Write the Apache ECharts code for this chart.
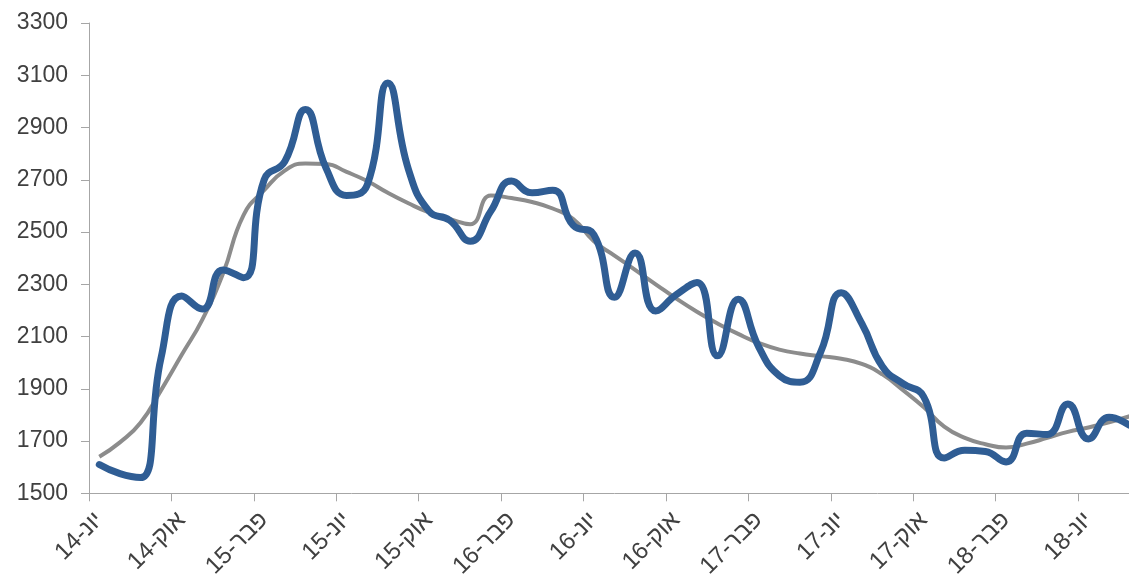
<!DOCTYPE html>
<html>
<head>
<meta charset="utf-8">
<script src="https://cdn.jsdelivr.net/npm/echarts@6/dist/echarts.min.js"></script>
<style>
  html, body { margin: 0; padding: 0; background: #ffffff; overflow: hidden; }
  #chart { width: 1140px; height: 581px; }
</style>
</head>
<body>
<div id="chart"></div>
<script>
// Monthly categories, June 2014 – August 2018
const months = [
  'יונ-14','יול-14','אוג-14','ספט-14','אוק-14','נוב-14','דצמ-14',
  'ינו-15','פבר-15','מרץ-15','אפר-15','מאי-15','יונ-15','יול-15','אוג-15','ספט-15','אוק-15','נוב-15','דצמ-15',
  'ינו-16','פבר-16','מרץ-16','אפר-16','מאי-16','יונ-16','יול-16','אוג-16','ספט-16','אוק-16','נוב-16','דצמ-16',
  'ינו-17','פבר-17','מרץ-17','אפר-17','מאי-17','יונ-17','יול-17','אוג-17','ספט-17','אוק-17','נוב-17','דצמ-17',
  'ינו-18','פבר-18','מרץ-18','אפר-18','מאי-18','יונ-18','יול-18','אוג-18'
];

// Monthly values
const monthly = [
  1610, 1575, 1560, 2020, 2255, 2205, 2355,
  2325, 2700, 2770, 2969, 2745, 2640, 2680, 3070, 2740, 2580, 2545, 2465,
  2580, 2695, 2650, 2660, 2525, 2490, 2250, 2420, 2198, 2260, 2307, 2026,
  2243, 2060, 1950, 1925, 2040, 2268, 2150, 1985, 1920, 1870, 1635, 1665,
  1660, 1620, 1730, 1725, 1842, 1708, 1791, 1760
];

// Trend
const trend = [
  1640, 1695, 1770, 1895, 2030, 2165, 2340,
  2565, 2660, 2735, 2762, 2760, 2730, 2695, 2650, 2610, 2575, 2550, 2530,
  2640, 2630, 2615, 2590, 2550, 2465, 2410, 2355, 2300, 2245, 2195, 2150,
  2110, 2075, 2050, 2035, 2025, 2015, 1995, 1955, 1895, 1830, 1755, 1712,
  1688, 1675, 1690, 1712, 1735, 1752, 1772, 1795
];

// Value axis range
const yMin = 1500;
const yMax = 3300;
const yStep = 200;

const chart = echarts.init(document.getElementById('chart'), null, { renderer: 'canvas' });

const axisGray = '#a6a6a6';
const textColor = '#404040';
const font = '"Liberation Sans", Arial, sans-serif';

chart.setOption({
  animation: false,
  backgroundColor: '#ffffff',
  grid: { left: 89, top: 23, right: 0, bottom: 87, containLabel: false },
  xAxis: {
    type: 'category',
    data: months,
    boundaryGap: true,
    axisLine: { show: true, lineStyle: { color: axisGray, width: 1 } },
    axisTick: { show: true, interval: 3, length: 8, lineStyle: { color: axisGray } },
    axisLabel: {
      interval: 3,
      rotate: 45,
      margin: 23,
      color: textColor,
      fontSize: 24,
      fontFamily: font
    },
    splitLine: { show: false }
  },
  yAxis: {
    type: 'value',
    min: yMin,
    max: yMax,
    interval: yStep,
    axisLine: { show: true, lineStyle: { color: axisGray, width: 1 } },
    axisTick: { show: true, length: 8, lineStyle: { color: axisGray } },
    axisLabel: {
      margin: 21,
      color: textColor,
      fontSize: 23,
      fontFamily: font,
      formatter: (v) => String(v)
    },
    splitLine: { show: false }
  },
  series: [
    {
      type: 'line',
      data: trend,
      smooth: 0.5,
      showSymbol: false,
      lineStyle: { color: '#8c8c8c', width: 4 },
      z: 2
    },
    {
      type: 'line',
      data: monthly,
      smooth: 0.5,
      showSymbol: false,
      lineStyle: { color: '#2f5d94', width: 7, cap: 'round', join: 'round' },
      z: 3
    }
  ]
});
</script>
</body>
</html>
